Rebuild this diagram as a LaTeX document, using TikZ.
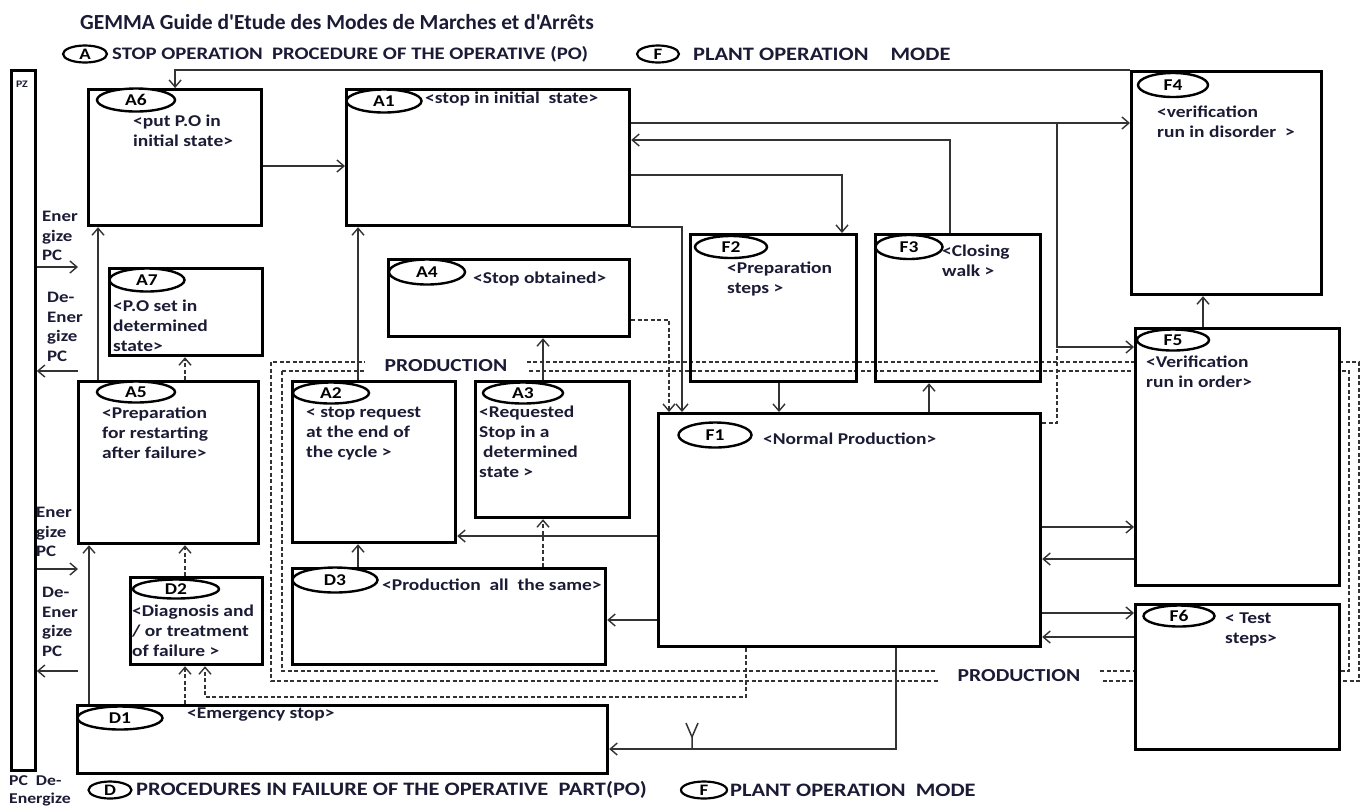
\documentclass[tikz,border=0pt]{standalone}
\usepackage{fontspec}
\setmainfont{Carlito}
\newfontfamily\gfont[FakeStretch=1.18]{Carlito}
\newfontfamily\tfont{Carlito}
\usetikzlibrary{arrows.meta,shapes.geometric}
\definecolor{ink}{HTML}{1B1B35}
\definecolor{wirecol}{HTML}{333333}
% state box: name, x, y (top-left), width, height
\newcommand\stbox[5]{\node[box, minimum width=#4pt, minimum height=#5pt] (#1) at (#2,#3) {};}
% oval tag: name, cx, cy, width, height, label
\newcommand\sttag[6]{\node[tag, minimum width=#4pt, minimum height=#5pt] (#1) at (#2,#3) {#6};}
\begin{document}
\begin{tikzpicture}[x=1pt,y=-1pt,
  box/.style={draw=black, line width=3.2pt, inner sep=0pt, anchor=north west},
  tag/.style={draw=black, ellipse, line width=2.4pt, fill=white, inner sep=0pt, text=black, font=\gfont\bfseries\fontsize{16.5}{20}\selectfont},
  desc/.style={anchor=north west, inner sep=0pt, align=left, text=ink, font=\gfont\bfseries\fontsize{16.5}{20}\selectfont},
  side/.style={anchor=north west, inner sep=0pt, align=left, text=ink, font=\gfont\bfseries\fontsize{16}{19.5}\selectfont},
  legend/.style={anchor=west, inner sep=0pt, text=ink, font=\gfont\bfseries\fontsize{17.6}{20}\selectfont},
  legendb/.style={anchor=west, inner sep=0pt, text=ink, font=\gfont\bfseries\fontsize{19}{21}\selectfont},
  ltag/.style={draw=black, ellipse, line width=2.2pt, inner sep=0pt, minimum height=17pt, text=black, font=\gfont\bfseries\fontsize{16}{18}\selectfont},
  link/.style={draw=wirecol, line width=1.5pt, -{Straight Barb[length=7pt,width=12pt,line width=1.4pt]}},
  plain/.style={draw=wirecol, line width=1.5pt},
  dlink/.style={link, dash pattern=on 4pt off 2.5pt, line width=1.2pt},
  prod/.style={draw=wirecol, line width=1.2pt, dash pattern=on 4pt off 2.5pt},
  prodlabel/.style={fill=white, inner xsep=20pt, inner ysep=2pt, text=ink, font=\gfont\bfseries\fontsize{18.3}{20}\selectfont}
]
\useasboundingbox (0,0) rectangle (1362,807);

% title and legends
\node[anchor=west, inner sep=0pt, text=ink, font=\tfont\bfseries\fontsize{21.5}{24}\selectfont] (title) at (80,22) {GEMMA Guide d'Etude des Modes de Marches et d'Arrêts};
\node[ltag, minimum width=44pt] (legA) at (85,54) {A};
\node[legend] (legAtxt) at (112,54) {STOP OPERATION\ \ PROCEDURE OF THE OPERATIVE (PO)};
\node[ltag, minimum width=42pt] (legF) at (658,54) {F};
\node[legend, font=\gfont\bfseries\fontsize{19}{21}\selectfont] (legFtxt) at (693,54) {PLANT OPERATION\hspace{22pt}MODE};
\node[ltag, minimum width=43pt] (legD) at (110,790) {D};
\node[legendb] (legDtxt) at (136,790) {PROCEDURES IN FAILURE OF THE OPERATIVE\ \ PART(PO)};
\node[ltag, minimum width=46pt] (legF2) at (704,790) {F};
\node[legendb] (legF2txt) at (730,790) {PLANT OPERATION\ \ MODE};

% production envelopes (dashed double frame)
\draw[prod] (271,362) rectangle (1359,681);
\draw[prod] (282,371) rectangle (1349,671);
\node[prodlabel] (prodtop) at (446,366) {PRODUCTION};
\node[prodlabel] (prodbot) at (1019,676) {PRODUCTION};

% left power bar
\node[box, line width=2.8pt, minimum width=24pt, minimum height=700pt] (PZ) at (10,69) {};
\node[inner sep=0pt, text=ink, font=\gfont\bfseries\fontsize{10}{12}\selectfont] (PZtxt) at (22,84) {PZ};

% state boxes
\stbox{A6}{87}{88}{173}{136}
\stbox{A1}{345}{88}{283}{136}
\node[box, minimum width=190pt, minimum height=223pt] (F4) at (1130,70) {};
\stbox{A7}{108}{267}{153}{87}
\stbox{A4}{387}{258}{241}{77}
\stbox{F2}{689}{233}{166}{147}
\stbox{F3}{874}{233}{165}{147}
\node[box, fill=white, minimum width=204pt, minimum height=257pt] (F5) at (1134,327) {};
\stbox{A5}{77}{380}{180}{162}
\stbox{A2}{291}{380}{163}{161}
\stbox{A3}{474}{380}{154}{136}
\stbox{F1}{657}{412}{382}{233}
\stbox{D3}{291}{567}{313}{96}
\stbox{D2}{129}{576}{132}{87}
\stbox{D1}{76}{704}{530}{68}
\node[box, fill=white, minimum width=204pt, minimum height=145pt] (F6) at (1134,603) {};

% oval tags
\sttag{tA6}{136}{100}{78}{23}{A6}
\sttag{tA1}{384}{101}{75}{23}{A1}
\sttag{tF4}{1173}{85}{70}{24}{F4}
\sttag{tA7}{147}{280}{75}{23}{A7}
\sttag{tA4}{427}{272}{76}{25}{A4}
\sttag{tF2}{731}{247}{72}{22}{F2}
\sttag{tF3}{909}{247}{67}{24}{F3}
\sttag{tF5}{1173}{340}{72}{21}{F5}
\sttag{tA5}{136}{392}{78}{21}{A5}
\sttag{tA2}{331}{393}{76}{21}{A2}
\sttag{tA3}{523}{393}{80}{21}{A3}
\sttag{tF1}{715}{435}{73}{25}{F1}
\sttag{tD3}{335}{580}{85}{25}{D3}
\sttag{tD2}{176}{589}{86}{19}{D2}
\sttag{tD1}{120}{718}{85}{23}{D1}
\sttag{tF6}{1179}{616}{71}{21}{F6}

% descriptions
\node[desc] (dA6) at (133,115) {<put P.O in\\initial state>};
\node[desc] (dA1) at (425,92) {<stop in initial\ \ state>};
\node[desc] (dF4) at (1157,106) {<verification\\run in disorder\ \ >};
\node[desc] (dA7) at (113,300) {<P.O set in\\determined\\state>};
\node[desc] (dA4) at (473,272) {<Stop obtained>};
\node[desc] (dF2) at (727,262) {<Preparation\\steps >};
\node[desc] (dF3) at (942,245) {<Closing\\walk >};
\node[desc] (dF5) at (1146,356) {<Verification\\run in order>};
\node[desc] (dA5) at (102,407) {<Preparation\\for restarting\\after failure>};
\node[desc] (dA2) at (306,407) {< stop request\\at the end of\\the cycle >};
\node[desc] (dA3) at (479,406) {<Requested\\Stop in a\\\hspace*{4pt}determined\\state >};
\node[desc] (dF1) at (763,433) {<Normal Production>};
\node[desc] (dD3) at (382,579) {<Production\ \ all\ \ the same>};
\node[desc] (dD2) at (132,605) {<Diagnosis and\\/ or treatment\\of failure >};
\node[desc] (dD1) at (187,708) {<Emergency stop>};
\node[desc] (dF6) at (1225,613) {< Test\\steps>};

% power supply labels
\node[side] (en1) at (42,211) {Ener\\gize\\PC};
\node[side] (de1) at (47,292) {De-\\Ener\\gize\\PC};
\node[side] (en2) at (36,507) {Ener\\gize\\PC};
\node[side] (de2) at (42,587) {De-\\Ener\\gize\\PC};
\node[side, font=\gfont\bfseries\fontsize{15}{18}\selectfont] (pcde) at (9,775) {PC\ \ De-\\Energize};

% helper points
\coordinate (e1) at (78,267);
\coordinate (d1) at (78,371);
\coordinate (e2) at (78,569);
\coordinate (d2) at (78,671);
\coordinate (j1) at (1057,123);
\coordinate (j2) at (1057,347);
\coordinate (j3) at (746,697);

% power arrows
\draw[link] (PZ.east |- e1) -- (e1);
\draw[link] (d1) -- (PZ.east |- d1);
\draw[link] (PZ.east |- e2) -- (e2);
\draw[link] (d2) -- (PZ.east |- d2);

% transitions
\draw[link] (F4.north west) -| (A6.north);
\draw[link] (A6.east |- 0,166) -- (A1.west |- 0,166);
\draw[link] (A1.east |- 0,123) -- (F4.west |- 0,123);
\draw[link] (j1) |- (F5.west |- j2);
\draw[link] (F3.north -| 950,0) |- (A1.east |- 0,140);
\draw[link] (A1.east |- 0,175) -| (F2.north -| 842,0);
\draw[link] (A1.south east) -| (F1.north -| 682,0);
\draw[dlink] (A4.east |- 0,320) -| (F1.north -| 669,0);
\draw[link] (A5.north -| 98,0) -- (A6.south -| 98,0);
\draw[dlink] (A5.north -| 185,0) -- (A7.south -| 185,0);
\draw[link] (A2.north -| 358,0) -- (A1.south -| 358,0);
\draw[link] (A3.north -| 543,0) -- (A4.south -| 543,0);
\draw[link] (D3.north -| 358,0) -- (A2.south -| 358,0);
\draw[dlink] (D3.north -| 543,0) -- (A3.south -| 543,0);
\draw[link] (F1.west |- 0,536) -- (A2.east |- 0,536);
\draw[link] (F1.west |- 0,620) -- (D3.east |- 0,620);
\draw[link] (F2.south -| 779,0) -- (F1.north -| 779,0);
\draw[link] (F1.north -| 929,0) -- (F3.south -| 929,0);
\draw[link] (F5.north -| 1203,0) -- (F4.south -| 1203,0);
\draw[link] (F1.east |- 0,527) -- (F5.west |- 0,527);
\draw[link] (F5.west |- 0,559) -- (F1.east |- 0,559);
\draw[link] (F1.east |- 0,613) -- (F6.west |- 0,613);
\draw[link] (F6.west |- 0,637) -- (F1.east |- 0,637);
\draw[prod] (F1.east |- 0,423) -| (j2);
\draw[link] (D1.north -| 89,0) -- (A5.south -| 89,0);
\draw[dlink] (D1.north -| 185,0) -- (D2.south -| 185,0);
\draw[dlink] (D2.north -| 185,0) -- (A5.south -| 185,0);
\draw[dlink] (F1.south -| j3) -- (j3) -| (D2.south -| 205,0);
\draw[link] (F1.south -| 896,0) |- (D1.east |- 0,749);
% fork mark on the emergency line
\draw[plain] (692,749) -- (692,737) (686,723) -- (692,737) -- (698,723);
\end{tikzpicture}
\end{document}
